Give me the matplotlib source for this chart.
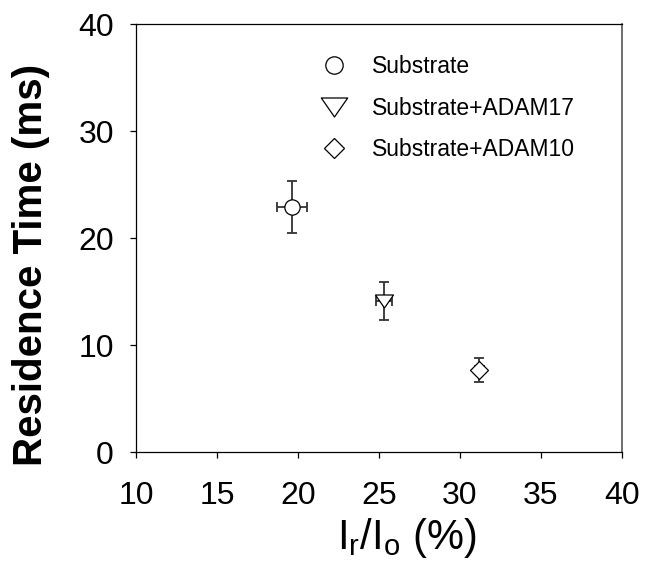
import matplotlib
matplotlib.use('Agg')
import matplotlib.pyplot as plt
from matplotlib.lines import Line2D
from matplotlib.path import Path

plt.rcParams['font.family'] = ['Liberation Sans', 'DejaVu Sans']
plt.rcParams['mathtext.fontset'] = 'custom'
plt.rcParams['mathtext.rm'] = 'Liberation Sans'
plt.rcParams['mathtext.it'] = 'Liberation Sans'

# data
labels = ['Substrate', 'Substrate+ADAM17', 'Substrate+ADAM10']
ratio = [19.65, 25.3, 31.2]          # Ir/Io (%)
ratio_err = [0.93, 0.5, 0.28]
residence = [22.9, 14.1, 7.65]       # ms
residence_err = [2.4, 1.8, 1.15]

# wide down-pointing triangle, closed so it gets a fill
tri = Path([(-1, 0.72), (1, 0.72), (0, -0.72), (-1, 0.72)], closed=True)
markers = ['o', tri, 'D']
sizes = [11, 13, 9]
legend_sizes = [12.5, 19, 10]

fig = plt.figure(figsize=(6.45, 5.69), dpi=100)
ax = fig.add_axes([0.2109, 0.2056, 0.7529, 0.7522])

for x, xe, y, ye, m, s in zip(ratio, ratio_err, residence, residence_err, markers, sizes):
    ax.errorbar(x, y, xerr=xe, yerr=ye, fmt='none', ecolor='#333333',
                elinewidth=1.3, capsize=3.9, capthick=1.3, zorder=2)
    ax.plot(x, y, linestyle='none', marker=m, markersize=s,
            markerfacecolor='white', markeredgecolor='black',
            markeredgewidth=0.9, zorder=3)

ax.set_xlim(10, 40)
ax.set_ylim(0, 40)
ax.set_xticks([10, 15, 20, 25, 30, 35, 40])
ax.set_yticks([0, 10, 20, 30, 40])
ax.tick_params(direction='out', length=4, width=0.9, labelsize=23)
ax.tick_params(axis='y', pad=12)
ax.tick_params(axis='x', pad=17)
for side in ['left', 'bottom', 'top']:
    ax.spines[side].set_linewidth(0.9)
ax.spines['right'].set_linewidth(1.2)
ax.spines['right'].set_color('#555555')

ax.set_xlabel(r'$\mathregular{I_r/I_o}$ (%)', fontsize=30)
ax.xaxis.set_label_coords(0.557, -0.15)
ax.set_ylabel('Residence Time (ms)', fontsize=29, fontweight='bold')
ax.yaxis.set_label_coords(-0.177, 0.437)

handles = [Line2D([], [], linestyle='none', marker=m, markersize=s,
                  markerfacecolor='white', markeredgecolor='black',
                  markeredgewidth=0.9)
           for m, s in zip(markers, legend_sizes)]
ax.legend(handles, labels, loc='upper left', bbox_to_anchor=(0.337, 0.975),
          frameon=False, fontsize=16.5, labelspacing=0.8, handletextpad=1.05,
          handlelength=1.2)

fig.savefig('out.png', dpi=100)
